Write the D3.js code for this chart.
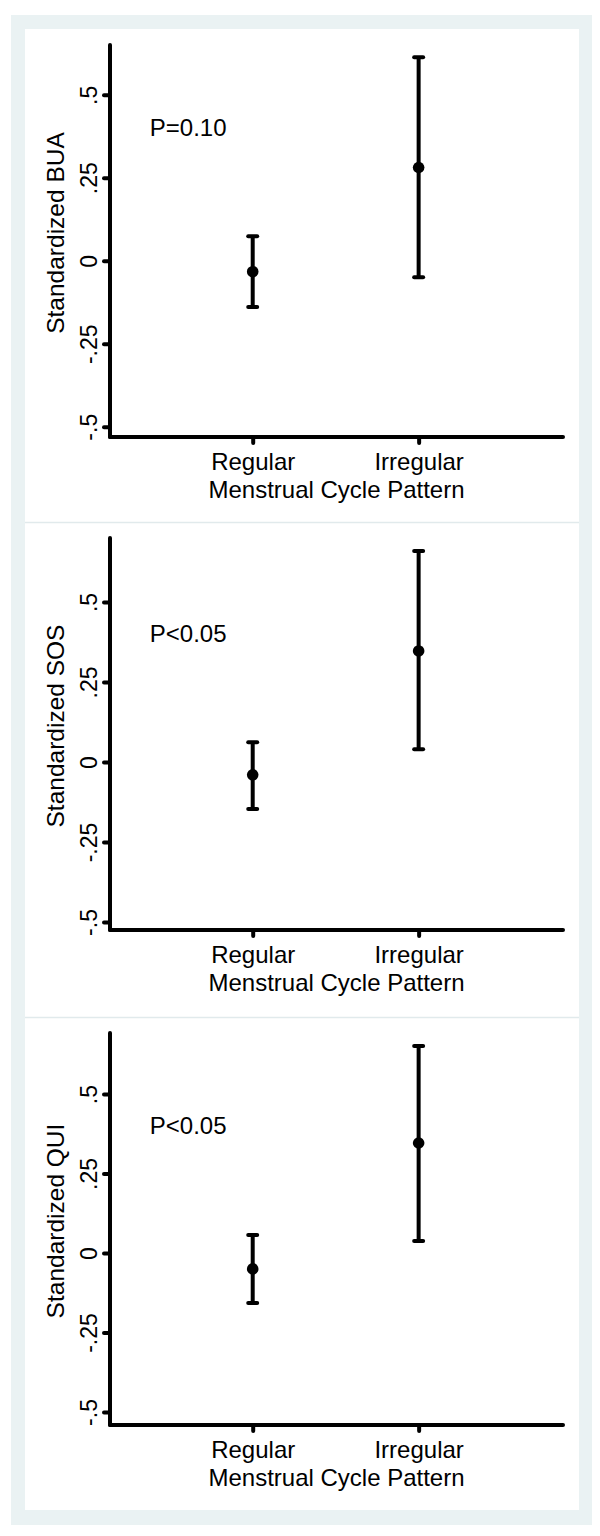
<!DOCTYPE html>
<html>
<head>
<meta charset="utf-8">
<script src="https://cdn.jsdelivr.net/npm/d3@7"></script>
<style>
  html, body { margin: 0; padding: 0; background: #ffffff; }
  svg { display: block; }
  text { font-family: "Liberation Sans", Arial, Helvetica, sans-serif; fill: #000; }
</style>
</head>
<body>
<svg id="chart" width="600" height="1536"></svg>
<script>
// ---- data ----
const categories = ["Regular", "Irregular"];
const categoryPos = [1, 2];
const outcomes = ["BUA", "SOS", "QUI"];
const pValues = ["P=0.10", "P<0.05", "P<0.05"];
const meansBUA = [-0.033, 0.281];
const lowerBUA = [-0.139, -0.050];
const upperBUA = [0.074, 0.613];
const meansSOS = [-0.040, 0.347];
const lowerSOS = [-0.147, 0.040];
const upperSOS = [0.062, 0.659];
const meansQUI = [-0.050, 0.346];
const lowerQUI = [-0.157, 0.038];
const upperQUI = [0.057, 0.651];
const yTickValues = [-0.5, -0.25, 0, 0.25, 0.5];
const yTickLabels = ["-.5", "-.25", "0", ".25", ".5"];
const yDomains = [[-0.531, 0.650], [-0.525, 0.700], [-0.541, 0.692]];
const xTitle = "Menstrual Cycle Pattern";
const yTitlePrefix = "Standardized ";

const series = [
  { means: meansBUA, lower: lowerBUA, upper: upperBUA },
  { means: meansSOS, lower: lowerSOS, upper: upperSOS },
  { means: meansQUI, lower: lowerQUI, upper: upperQUI }
];

// ---- layout ----
const svg = d3.select("#chart");
const bg = "#eaf2f3";
svg.append("rect").attr("x", 11).attr("y", 15).attr("width", 581).attr("height", 1510).attr("fill", bg);
svg.append("rect").attr("x", 25).attr("y", 29).attr("width", 554).attr("height", 1481).attr("fill", "#ffffff");

const panelTops = [29, 522, 1017];
const axisLeft = 110, axisRight = 563;
const plotTopOff = 16, plotBottomOff = 408;
const lw = 4;

const x = d3.scaleLinear().domain([0.14, 2.87]).range([axisLeft, axisRight]);

outcomes.forEach((name, i) => {
  const top = panelTops[i];
  const g = svg.append("g");
  if (i > 0) {
    g.append("line").attr("x1", 25).attr("x2", 579).attr("y1", top + 0.5).attr("y2", top + 0.5)
      .attr("stroke", "#e1eaec").attr("stroke-width", 1.5);
  }
  const y = d3.scaleLinear().domain(yDomains[i]).range([top + plotBottomOff, top + plotTopOff]);

  // y axis
  const yAxis = d3.axisLeft(y).tickValues(yTickValues).tickSize(6).tickPadding(7)
    .tickFormat((d, k) => yTickLabels[k]);
  const ya = g.append("g").attr("transform", `translate(${axisLeft},0)`).call(yAxis);
  ya.select(".domain").remove();
  ya.selectAll(".tick line").attr("stroke", "#000").attr("stroke-width", lw).attr("stroke-linecap", "round");
  ya.selectAll(".tick text")
    .attr("x", null).attr("dy", null)
    .attr("text-anchor", "middle")
    .attr("transform", "translate(-13,0) rotate(-90)")
    .style("font-size", "23px");
  g.append("line").attr("x1", axisLeft).attr("x2", axisLeft)
    .attr("y1", y.range()[1]).attr("y2", y.range()[0])
    .attr("stroke", "#000").attr("stroke-width", lw).attr("stroke-linecap", "round");

  // x axis
  const xAxis = d3.axisBottom(x).tickValues(categoryPos).tickSize(6).tickPadding(10)
    .tickFormat((d, k) => categories[k]);
  const xa = g.append("g").attr("transform", `translate(0,${y.range()[0]})`).call(xAxis);
  xa.select(".domain").remove();
  xa.selectAll(".tick line").attr("stroke", "#000").attr("stroke-width", lw).attr("stroke-linecap", "round");
  xa.selectAll(".tick text").style("font-size", "24px").attr("dy", "0.72em");
  g.append("line").attr("x1", axisLeft).attr("x2", axisRight)
    .attr("y1", y.range()[0]).attr("y2", y.range()[0])
    .attr("stroke", "#000").attr("stroke-width", lw).attr("stroke-linecap", "round");

  // axis titles
  g.append("text").attr("x", (axisLeft + axisRight) / 2).attr("y", y.range()[0] + 61)
    .attr("text-anchor", "middle").style("font-size", "24px").text(xTitle);
  const yMid = (y.range()[0] + y.range()[1]) / 2;
  g.append("text").attr("transform", `translate(64,${yMid - 8}) rotate(-90)`)
    .attr("text-anchor", "middle").style("font-size", "24.5px").text(yTitlePrefix + name);

  // p-value annotation
  g.append("text").attr("x", x(0.38)).attr("y", y(0.4)).attr("dy", "0.35em")
    .style("font-size", "24px").text(pValues[i]);

  // error bars
  const s = series[i];
  const pts = categoryPos.map((c, k) => ({ c, m: s.means[k], lo: s.lower[k], hi: s.upper[k] }));
  g.selectAll(".bar").data(pts).enter().append("line")
    .attr("x1", d => x(d.c)).attr("x2", d => x(d.c))
    .attr("y1", d => y(d.lo)).attr("y2", d => y(d.hi))
    .attr("stroke", "#000").attr("stroke-width", lw);
  ["lo", "hi"].forEach(key => {
    g.selectAll(".cap-" + key).data(pts).enter().append("line")
      .attr("x1", d => x(d.c) - 4.5).attr("x2", d => x(d.c) + 4.5)
      .attr("y1", d => y(d[key])).attr("y2", d => y(d[key]))
      .attr("stroke", "#000").attr("stroke-width", lw).attr("stroke-linecap", "round");
  });
  g.selectAll(".dot").data(pts).enter().append("circle")
    .attr("cx", d => x(d.c)).attr("cy", d => y(d.m)).attr("r", 5.8).attr("fill", "#000");
});
</script>
</body>
</html>
